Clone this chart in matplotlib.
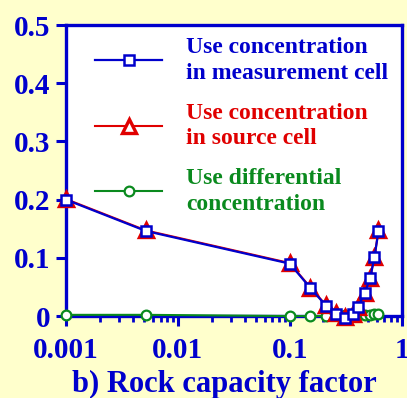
import matplotlib.pyplot as plt
from matplotlib.ticker import NullFormatter, LogLocator

# rock capacity factor (x) and error values (y)
rcf = [0.001, 0.0052, 0.1, 0.153, 0.21, 0.258, 0.31, 0.366, 0.406, 0.466, 0.522, 0.571, 0.62]
meas_cell = [0.200, 0.146, 0.090, 0.048, 0.018, 0.004, -0.003, 0.003, 0.015, 0.039, 0.065, 0.101, 0.146]
source_cell = [0.201, 0.147, 0.091, 0.049, 0.019, 0.005, -0.002, 0.004, 0.016, 0.040, 0.066, 0.102, 0.147]
diff_conc = [0.002, 0.002, 0.000, 0.000, 0.000, 0.001, 0.001, 0.001, 0.001, 0.002, 0.002, 0.003, 0.003]

ytick_vals = [0, 0.1, 0.2, 0.3, 0.4, 0.5]
ytick_labels = ['0', '0.1', '0.2', '0.3', '0.4', '0.5']
xtick_vals = [0.001, 0.01, 0.1, 1]
xtick_labels = ['0.001', '0.01', '0.1', '1']

blue = '#0000cc'
red = '#e00000'
green = '#0a8a1e'

plt.rcParams['font.family'] = ['Liberation Serif', 'DejaVu Serif']
plt.rcParams['font.weight'] = 'bold'

fig = plt.figure(figsize=(4.07, 3.98), dpi=100, facecolor='#ffffcc')
ax = fig.add_axes([0.162, 0.206, 0.825, 0.731])
ax.set_facecolor('white')

ax.plot(rcf, diff_conc, '-o', color=green, lw=1.5, ms=7, mfc='white', mec=green, mew=1.6,
        clip_on=False, zorder=3, label='Use differential\nconcentration')
ax.plot(rcf, source_cell, '-^', color=red, lw=1.5, ms=9.5, mfc='white', mec=red, mew=2.4,
        clip_on=False, zorder=4, label='Use concentration\nin source cell')
ax.plot(rcf, meas_cell, '-s', color=blue, lw=1.6, ms=6.5, mfc='white', mec=blue, mew=1.8,
        clip_on=False, zorder=5, label='Use concentration\nin measurement cell')

ax.set_xscale('log')
ax.set_xlim(0.001, 1)
ax.set_ylim(0, 0.5)

ax.set_yticks(ytick_vals)
ax.set_yticklabels(ytick_labels)
ax.set_xticks(xtick_vals)
ax.set_xticklabels(xtick_labels)
ax.xaxis.set_minor_locator(LogLocator(base=10, subs=range(2, 10)))
ax.xaxis.set_minor_formatter(NullFormatter())

for s in ax.spines.values():
    s.set_color(blue)
    s.set_linewidth(2.4)

ax.tick_params(axis='both', which='major', direction='out', length=7, width=2.2,
               colors=blue, labelsize=21, pad=4)
ax.tick_params(axis='x', which='minor', direction='out', length=4, width=2, colors=blue)
ax.tick_params(axis='x', which='major', length=7, pad=8)

ax.set_xlabel('b) Rock capacity factor', fontsize=22, color=blue, fontweight='bold')
ax.xaxis.label.set_va('baseline')
ax.xaxis.set_label_coords(0.473, -0.262)

h, l = ax.get_legend_handles_labels()
leg = ax.legend(h[::-1], l[::-1], loc='upper right', frameon=False, fontsize=17,
                handlelength=2.85, handletextpad=1.0, labelspacing=0.8,
                borderaxespad=0.1, bbox_to_anchor=(0.995, 1.0))
for txt, c in zip(leg.get_texts(), [blue, red, green]):
    txt.set_color(c)
    txt.set_fontweight('bold')
    txt.set_linespacing(1.3)

fig.savefig('out.png', dpi=100, facecolor=fig.get_facecolor())
